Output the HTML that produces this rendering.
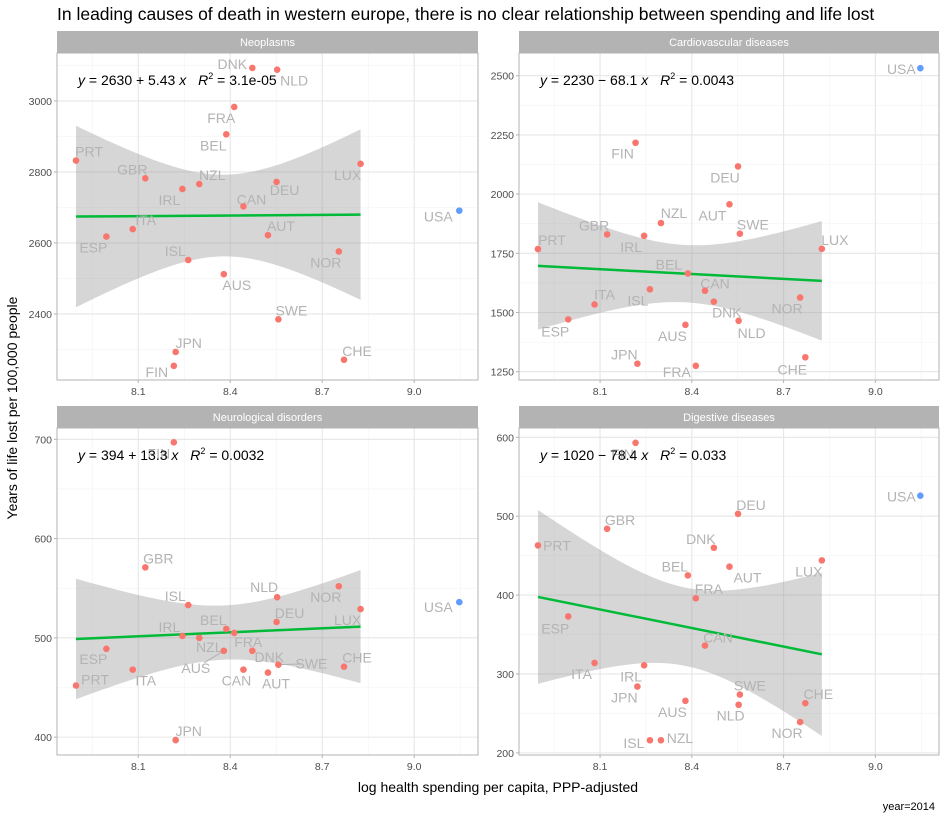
<!DOCTYPE html>
<html><head><meta charset="utf-8"><style>
html,body{margin:0;padding:0;background:#fff}
svg{display:block;font-family:"Liberation Sans",sans-serif}
</style></head><body>
<svg id="chart" width="942" height="816" viewBox="0 0 942 816">
<text x="57" y="20" font-size="17.5" fill="#000">In leading causes of death in western europe, there is no clear relationship between spending and life lost</text>
<text transform="translate(17,408) rotate(-90)" text-anchor="middle" font-size="14" fill="#000">Years of life lost per 100,000 people</text>
<text x="498" y="792" text-anchor="middle" font-size="14" fill="#000">log health spending per capita, PPP-adjusted</text>
<text x="935" y="810" text-anchor="end" font-size="11" fill="#000">year=2014</text>
<g id="panels"></g>
</svg>
<script>
const countries = ["PRT","ESP","ITA","GBR","FIN","JPN","IRL","ISL","NZL","AUS","BEL","FRA","CAN","DNK","AUT","NLD","SWE","DEU","NOR","CHE","LUX","USA"];
const spending = [7.897,7.996,8.082,8.123,8.216,8.222,8.244,8.263,8.299,8.379,8.387,8.413,8.443,8.472,8.523,8.553,8.557,8.551,8.754,8.771,8.825,9.147];
const neoplasms = [2832,2618,2639,2782,2254,2293,2752,2552,2766,2512,2906,2983,2703,3093,2622,3088,2385,2772,2576,2271,2823,2691];
const cardiovascular = [1768,1471,1534,1830,2217,1284,1824,1598,1878,1448,1665,1275,1592,1546,1957,1465,1833,2117,1563,1311,1769,2532];
const neurological = [452,489,468,571,697,397,502,533,500,487,509,505,468,487,465,541,473,516,552,471,529,536];
const digestive = [463,373,314,484,593,284,311,216,216,266,425,396,336,460,436,261,274,503,239,263,444,526];
const panelTitles = ["Neoplasms","Cardiovascular diseases","Neurological disorders","Digestive diseases"];
const equations = [["2630 + 5.43","3.1e-05"],["2230 \u2212 68.1","0.0043"],["394 + 13.3","0.0032"],["1020 \u2212 78.4","0.033"]];
const yTicks = [[2400,2600,2800,3000],[1250,1500,1750,2000,2250,2500],[400,500,600,700],[200,300,400,500,600]];
const xTicks = [8.1,8.4,8.7,9.0];
const yDomains = [[2214,3135],[1215,2596],[382,711.4],[197.3,611.8]];
const xDomain = [7.835,9.208];
// label offsets [dx,dy] per country (layout, not data)
const labelOffsets = [
 [[13,-9],[-13,11],[13,-9],[-13,-9],[-17,6],[13,-9],[-13,11],[-13,-9],[13,-9],[13,11],[-13,11],[-13,11],[8,-7],[-20,-4],[13,-9],[17,11],[13,-9],[8,8],[-13,11],[13,-9],[-13,11],[-21,6]],
 [[14,-9],[-13,12],[10,-10],[-13,-9],[-13,11],[-13,-9],[-13,11],[-12,11],[13,-10],[-13,11],[-19,-9],[-19,6],[10,-7],[13,11],[-17,11],[13,12],[13,-9],[-13,11],[-13,11],[-13,12],[13,-9],[-19,1]],
 [[19,-6],[-13,10],[13,11],[13,-9],[-15,11],[13,-9],[-13,-9],[-13,-9],[10,9],[-28,17],[-13,-9],[14,9],[-7,11],[17,6],[8,11],[-13,-10],[33,-1],[13,-9],[-13,11],[13,-9],[-13,11],[-21,5]],
 [[19,0],[-13,12],[-13,11],[13,-9],[-13,11],[-13,11],[-13,11],[-16,3],[19,-2],[-13,11],[-13,-9],[13,-9],[13,-8],[-13,-9],[18,11],[-8,11],[10,-9],[13,-9],[-13,11],[13,-9],[-13,11],[-19,1]]
];
const leaderPanels = {"2-9":true,"2-16":true};
const seriesList = [neoplasms,cardiovascular,neurological,digestive];
const panelBoxes = [[57,53,478,380],[519,53,939,380],[57,428,478,755],[519,428,939,755]];
const NS = "http://www.w3.org/2000/svg";
const root = document.getElementById("panels");
function mk(tag, attrs, parent){const e=document.createElementNS(NS,tag);for(const k in attrs)e.setAttribute(k,attrs[k]);(parent||root).appendChild(e);return e;}

seriesList.forEach((vals,p)=>{
  const [L,T,R,B] = panelBoxes[p];
  const xs = v => L + (v-xDomain[0])/(xDomain[1]-xDomain[0])*(R-L);
  const ys = v => B - (v-yDomains[p][0])/(yDomains[p][1]-yDomains[p][0])*(B-T);
  const g = mk("g",{});
  
  
  // strip
  const strip = mk("rect",{x:L,y:T-22,width:R-L,height:22,fill:"#b3b3b3"},g);
  
  
  const st = mk("text",{x:(L+R)/2,y:T-7,"text-anchor":"middle","font-size":"11",fill:"#fff"},g);
  st.textContent = panelTitles[p];
  
  
  // minor grid
  const ty = yTicks[p], step = ty[1]-ty[0];
  for(let v=ty[0]-step/2; v<=ty[ty.length-1]+step; v+=step){ if(v<yDomains[p][0]||v>yDomains[p][1])continue; mk("line",{x1:L,x2:R,y1:ys(v),y2:ys(v),stroke:"#f3f3f3","stroke-width":0.6},g);}
  for(let v=7.95; v<9.21; v+=0.3){ mk("line",{x1:xs(v),x2:xs(v),y1:T,y2:B,stroke:"#f3f3f3","stroke-width":0.6},g);}
  // major grid & ticks
  ty.forEach(v=>{
    mk("line",{x1:L,x2:R,y1:ys(v),y2:ys(v),stroke:"#e6e6e6","stroke-width":1.1},g);
    mk("line",{x1:L-3,x2:L,y1:ys(v),y2:ys(v),stroke:"#b3b3b3"},g);
    const t = mk("text",{x:L-5,y:ys(v)+4,"text-anchor":"end","font-size":"10.5",fill:"#4d4d4d"},g);
    t.textContent = v;
    
    
  });
  xTicks.forEach(v=>{
    mk("line",{x1:xs(v),x2:xs(v),y1:T,y2:B,stroke:"#e6e6e6","stroke-width":1.1},g);
    mk("line",{x1:xs(v),x2:xs(v),y1:B,y2:B+3,stroke:"#b3b3b3"},g);
    const t = mk("text",{x:xs(v),y:B+15,"text-anchor":"middle","font-size":"10.5",fill:"#4d4d4d"},g);
    t.textContent = v.toFixed(1);
    
    
  });
  // regression (excluding USA)
  const n = vals.length-1;
  let mx=0,my=0; for(let i=0;i<n;i++){mx+=spending[i];my+=vals[i];} mx/=n;my/=n;
  let sxx=0,sxy=0; for(let i=0;i<n;i++){sxx+=(spending[i]-mx)**2;sxy+=(spending[i]-mx)*(vals[i]-my);}
  const b=sxy/sxx, a=my-b*mx;
  let sse=0; for(let i=0;i<n;i++){sse+=(vals[i]-a-b*spending[i])**2;}
  const s=Math.sqrt(sse/(n-2)), tq=2.093;
  const xmin=Math.min(...spending.slice(0,n)), xmax=Math.max(...spending.slice(0,n));
  const up=[],lo=[];
  for(let k=0;k<=60;k++){const x=xmin+(xmax-xmin)*k/60;const f=a+b*x;const se=s*Math.sqrt(1/n+(x-mx)**2/sxx);up.push(xs(x)+","+ys(f+tq*se));lo.unshift(xs(x)+","+ys(f-tq*se));}
  const band = mk("polygon",{points:up.concat(lo).join(" "),fill:"#999",opacity:0.4},g);
  
  
  const line = mk("line",{x1:xs(xmin),y1:ys(a+b*xmin),x2:xs(xmax),y2:ys(a+b*xmax),stroke:"#00ba38","stroke-width":2.5},g);
  
  
  // points & labels
  vals.forEach((v,i)=>{
    const px=xs(spending[i]), py=ys(v), off=labelOffsets[p][i];
    if(leaderPanels[p+"-"+i]){ mk("line",{x1:px,y1:py,x2:px+off[0]*0.7,y2:py+off[1]*0.7,stroke:"#b0b0b0","stroke-width":1},g); }
    const lab = mk("text",{x:px+off[0],y:py+off[1]+5,"text-anchor":"middle","font-size":"14",fill:"#b3b3b3"},g);
    lab.textContent = countries[i];
    
    
  });
  vals.forEach((v,i)=>{
    const c = mk("circle",{cx:xs(spending[i]),cy:ys(v),r:3.3,fill:countries[i]==="USA"?"#619cff":"#f8766d"},g);
    
    
  });
  // equation
  const eq = mk("text",{x:L+21,y:T+32,"font-size":"14",fill:"#000"},g);
  
  
  eq.innerHTML = '<tspan font-style="italic">y</tspan> = '+equations[p][0]+' <tspan font-style="italic">x</tspan>   <tspan font-style="italic" dx="8">R</tspan><tspan font-size="9" dy="-6">2</tspan><tspan dy="6"> = '+equations[p][1]+'</tspan>';
  // border
  mk("rect",{x:L,y:T,width:R-L,height:B-T,fill:"none",stroke:"#b3b3b3","stroke-width":1},g);
});
</script>
</body></html>
